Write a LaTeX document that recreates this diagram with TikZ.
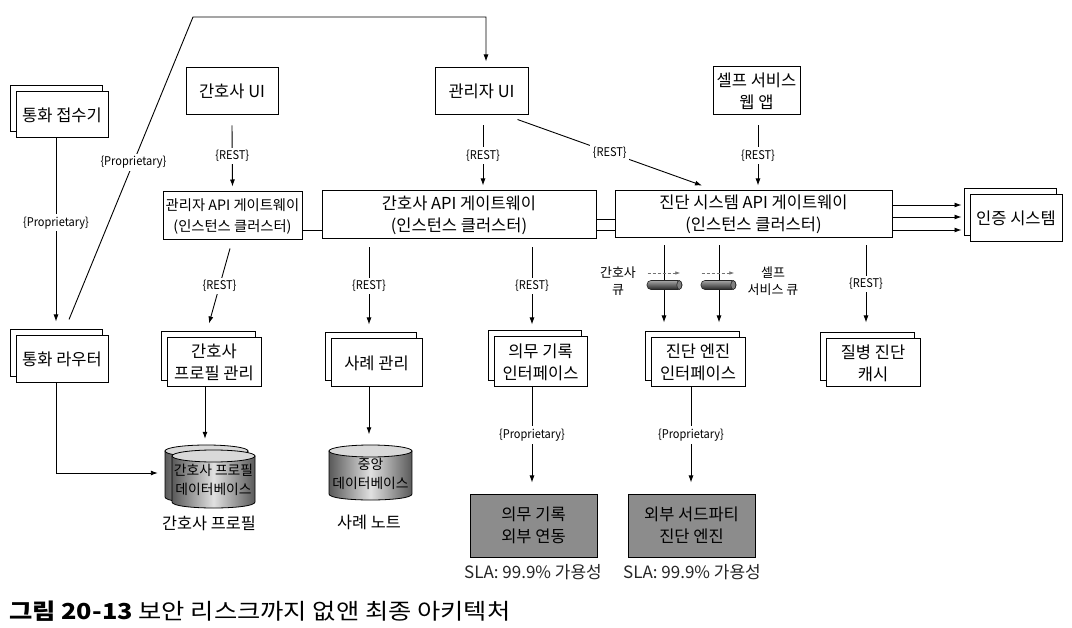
\documentclass[tikz,border=0pt]{standalone}
\usepackage{fontspec}
\setmainfont{Noto Sans CJK KR}
\newfontfamily\condfont{Noto Sans CJK KR}[FakeStretch=0.92]
\newfontfamily\capfont{Noto Sans CJK KR}[FakeStretch=1.15]
\usetikzlibrary{arrows.meta,shadows,calc}
\newcommand\bfs{\fontsize{16.5pt}{22pt}\selectfont}
\newcommand\gwfs{\fontsize{14.3pt}{21pt}\selectfont}
\newcommand\dbfs{\fontsize{13.8pt}{19pt}\selectfont}
\newcommand\lfs{\fontsize{16.3pt}{19pt}\selectfont}
\newcommand\qfs{\fontsize{13pt}{17pt}\selectfont}
\newcommand\slafs{\fontsize{17pt}{19pt}\selectfont}
\newcommand\capfs{\capfont\fontsize{22pt}{24pt}\selectfont}
\newcommand\dbcyl[4]{%
  \pgfmathsetmacro\dbcx{(#1+#3)/2}%
  \pgfmathsetmacro\dbrx{(#3-#1)/2}%
  \draw[line width=0.8pt, left color=black!65, right color=black!65, middle color=black!12]
    (#1,#2+6) -- (#1,#4-6) .. controls (#1,#4+2) and (#3,#4+2) .. (#3,#4-6) -- (#3,#2+6) -- cycle;
  \draw[line width=0.8pt, fill=black!15] (\dbcx,#2+6) ellipse (\dbrx pt and 6pt);
}
\begin{document}
\begin{tikzpicture}[x=1pt,y=-1pt,
  box/.style={draw=black, fill=white, line width=1pt, align=center, font=\bfs, inner sep=1pt},
  stack/.style={box, copy shadow={shadow xshift=-6pt, shadow yshift=6pt}},
  ext/.style={box, fill=black!45},
  dbtext/.style={align=center, font=\dbfs, inner sep=0pt},
  arr/.style={-{Latex[length=7pt,width=5pt]}, line width=0.9pt},
  lbl/.style={font=\condfont\fontsize{12pt}{13pt}\selectfont, fill=white, inner sep=2.5pt},
  queue/.style={rectangle, rounded corners=4pt, minimum width=35pt, minimum height=9pt, inner sep=0pt, draw=black!85, line width=0.6pt, top color=black!35, bottom color=black!85},
  qarr/.style={-{Latex[length=5pt,width=3.5pt]}, draw=black!55, line width=0.7pt, dash pattern=on 3pt off 2pt}
]
\fill[white] (0,0) rectangle (1072,628);
\useasboundingbox (0,0) rectangle (1072,628);

% databases (shapes)
\dbcyl{165}{445}{248}{503}
\dbcyl{172}{450}{255}{508}
\dbcyl{329}{445}{412}{500}

% nodes
\node[stack, minimum width=92pt, minimum height=46pt] (recv) at (62,115) {통화 접수기};
\node[stack, minimum width=92pt, minimum height=47pt] (router) at (62,359.5) {통화 라우터};
\node[box, minimum width=92pt, minimum height=47pt] (nurseUI) at (232,91.5) {간호사 UI};
\node[box, minimum width=93pt, minimum height=47pt] (adminUI) at (481.5,91.5) {관리자 UI};
\node[box, minimum width=87pt, minimum height=48pt] (selfweb) at (756.5,91) {셀프 서비스\\웹 앱};
\node[box, minimum width=139pt, minimum height=48pt, font=\gwfs] (gwA) at (232.5,216) {관리자 API 게이트웨이\\(인스턴스 클러스터)};
\node[box, minimum width=274pt, minimum height=48pt] (gwN) at (459,215) {간호사 API 게이트웨이\\(인스턴스 클러스터)};
\node[box, minimum width=277pt, minimum height=47pt] (gwD) at (753.5,214.5) {진단 시스템 API 게이트웨이\\(인스턴스 클러스터)};
\node[stack, minimum width=92pt, minimum height=47pt] (auth) at (1016,218.5) {인증 시스템};
\node[stack, minimum width=94pt, minimum height=49pt] (profmgr) at (214,362.5) {간호사\\프로필 관리};
\node[stack, minimum width=91pt, minimum height=48pt] (case) at (376.5,363) {사례 관리};
\node[stack, minimum width=93pt, minimum height=50pt] (medif) at (540.5,362) {의무 기록\\인터페이스};
\node[stack, minimum width=94pt, minimum height=49pt] (diagif) at (698,362.5) {진단 엔진\\인터페이스};
\node[stack, minimum width=94pt, minimum height=48pt] (cache) at (873,363) {질병 진단\\캐시};
\node[ext, minimum width=127pt, minimum height=63pt] (medext) at (533.5,525.5) {의무 기록\\외부 연동};
\node[ext, minimum width=127pt, minimum height=63pt] (diagext) at (691.5,525.5) {외부 서드파티\\진단 엔진};
\node[dbtext, minimum width=83pt, minimum height=58pt] (nurseDB) at (213.5,480) {간호사 프로필\\데이터베이스};
\node[dbtext, minimum width=83pt, minimum height=55pt] (centralDB) at (370.5,474) {중앙\\데이터베이스};
\node[font=\lfs] (nurseDBl) at (209,523) {간호사 프로필};
\node[font=\lfs] (centralDBl) at (369,522) {사례 노트};
\node[font=\slafs, text=black!85] (sla1) at (533,572) {SLA: 99.9\% 가용성};
\node[font=\slafs, text=black!85] (sla2) at (692,572) {SLA: 99.9\% 가용성};
\node[font=\qfs, align=center] (q1l) at (618,281) {간호사\\큐};
\node[font=\qfs, align=center] (q2l) at (773,281) {셀프\\서비스 큐};
\node[anchor=west, font=\capfs, inner sep=0pt] (cap) at (9,611) {\textbf{그림 20-13} 보안 리스크까지 없앤 최종 아키텍처};

\coordinate (bend1) at (193,17);
\coordinate (bend2) at (486,17);
\coordinate (authL) at ([xshift=-8pt]auth.west);

% connectors
\draw[arr] ([xshift=-6pt]recv.south) -- node[lbl, pos=0.46]{\{Proprietary\}} ([xshift=-6pt,yshift=14pt]router.north);
\draw[arr] ([xshift=7pt,yshift=16pt]router.north) -- node[lbl, pos=0.52]{\{Proprietary\}} (bend1) -- (bend2) -- ([xshift=4.5pt,yshift=6pt]adminUI.north);
\draw[arr] ([xshift=-6pt]router.south) |- ([xshift=-14pt,yshift=7pt]nurseDB.west);

\draw[arr] ([yshift=-10pt]nurseUI.south) -- node[lbl]{\{REST\}} ([yshift=5pt]gwA.north);
\draw[arr] ([xshift=1.5pt,yshift=-10pt]adminUI.south) -- node[lbl]{\{REST\}} ([xshift=24pt,yshift=5pt]gwN.north);
\draw[arr] ([xshift=-11pt,yshift=-4pt]adminUI.south east) -- node[lbl]{\{REST\}} ([xshift=-51.5pt,yshift=5pt]gwD.north);
\draw[arr] ([xshift=1.5pt,yshift=-10pt]selfweb.south) -- node[lbl]{\{REST\}} ([xshift=4.5pt,yshift=5pt]gwD.north);

\draw[line width=0.9pt] ([yshift=-14pt]gwA.east) -- ([yshift=-14pt]gwA.east -| gwN.west);
\draw[line width=0.9pt] ([yshift=-4pt]gwN.east) -- ([yshift=-4pt]gwN.east -| gwD.west);
\draw[line width=0.9pt] ([yshift=-15pt]gwN.east) -- ([yshift=-15pt]gwN.east -| gwD.west);
\foreach \dy in {9.5,-2.5,-15.5}
  \draw[arr] ([yshift=\dy pt]gwD.east) -- ([yshift=\dy pt]gwD.east -| authL);

\draw[arr] ([xshift=-2.5pt,yshift=-8pt]gwA.south) -- node[lbl]{\{REST\}} ([xshift=-5pt,yshift=14pt]profmgr.north);
\draw[arr] ([xshift=-90pt,yshift=-8pt]gwN.south) -- node[lbl]{\{REST\}} ([xshift=-7.5pt,yshift=14pt]case.north);
\draw[arr] ([xshift=73pt,yshift=-8pt]gwN.south) -- node[lbl]{\{REST\}} ([xshift=-8.5pt,yshift=12pt]medif.north);
\draw[arr] ([xshift=-89.5pt,yshift=-7pt]gwD.south) -- ([xshift=-34pt,yshift=15pt]diagif.north);
\draw[arr] ([xshift=-34.5pt,yshift=-7pt]gwD.south) -- ([xshift=21pt,yshift=15pt]diagif.north);
\draw[arr] ([xshift=112.5pt,yshift=-7pt]gwD.south) -- node[lbl]{\{REST\}} ([xshift=-7pt,yshift=16pt]cache.north);

\draw[arr] ([xshift=-9pt]profmgr.south) -- ([xshift=-8.5pt,yshift=12pt]nurseDB.north);
\draw[arr] ([xshift=-7.5pt]case.south) -- ([xshift=-1.5pt,yshift=12pt]centralDB.north);
\draw[arr] ([xshift=-8.5pt]medif.south) -- node[lbl]{\{Proprietary\}} ([xshift=-1.5pt,yshift=11pt]medext.north);
\draw[arr] ([xshift=-7pt]diagif.south) -- node[lbl]{\{Proprietary\}} ([xshift=-0.5pt,yshift=11pt]diagext.north);

% queues
\node[queue] (q1) at (664.5,285) {};
\node[queue] (q2) at (718.5,285) {};
\draw[fill=black!50, draw=black!85, line width=0.6pt] ([xshift=-3pt]q1.east) ellipse (2.5pt and 4.5pt);
\draw[fill=black!50, draw=black!85, line width=0.6pt] ([xshift=-3pt]q2.east) ellipse (2.5pt and 4.5pt);
\draw[qarr] ([xshift=1pt,yshift=12pt]q1.west) -- ([xshift=-2pt,yshift=12pt]q1.east);
\draw[qarr] ([xshift=1pt,yshift=12pt]q2.west) -- ([xshift=-2pt,yshift=12pt]q2.east);
\end{tikzpicture}
\end{document}
